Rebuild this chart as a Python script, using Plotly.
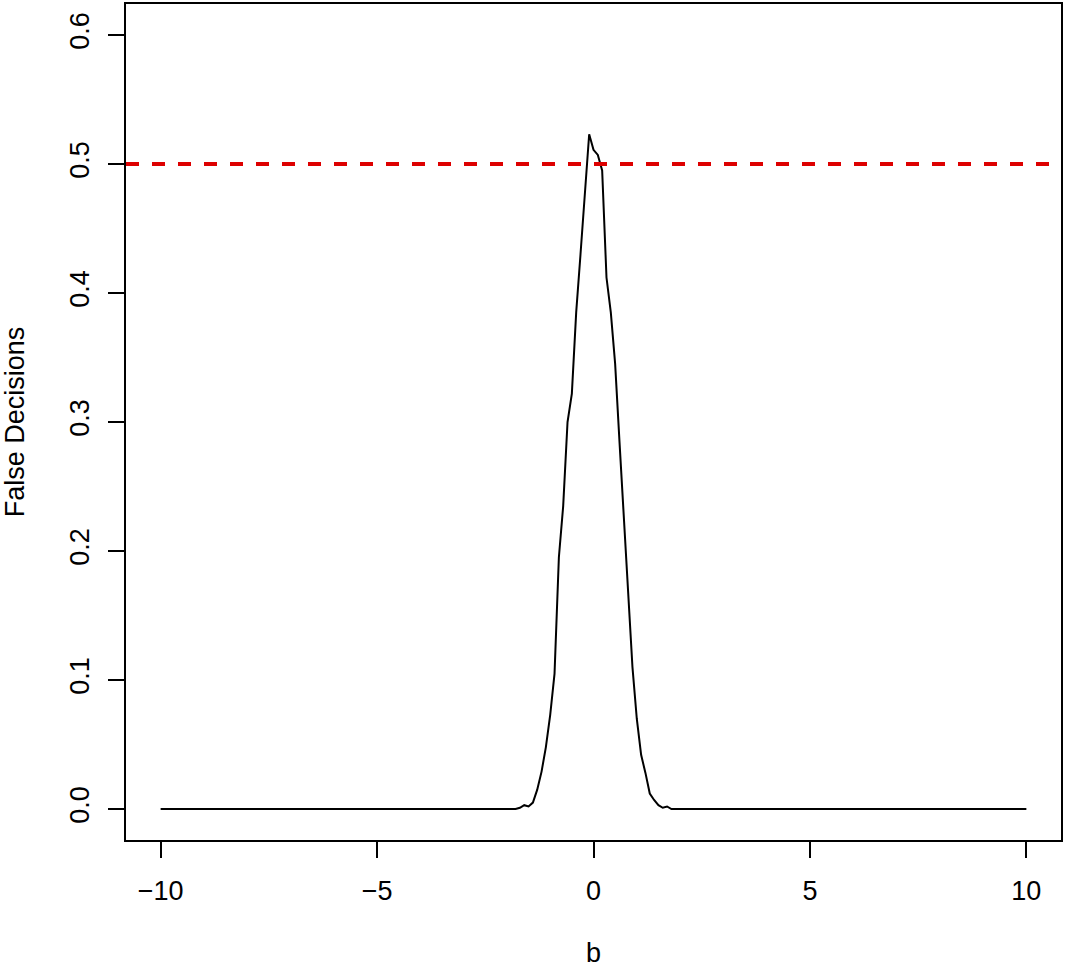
import plotly.graph_objects as go

b_values = [-10, -1.8, -1.7, -1.6, -1.5, -1.4, -1.3, -1.2, -1.1, -1.0, -0.9, -0.8, -0.7,
            -0.6, -0.5, -0.4, -0.3, -0.2, -0.1, 0.0, 0.1, 0.2, 0.3, 0.4, 0.5, 0.6, 0.7,
            0.8, 0.9, 1.0, 1.1, 1.2, 1.3, 1.4, 1.5, 1.6, 1.7, 1.8, 10]
false_decisions = [0, 0, 0.001, 0.003, 0.002, 0.005, 0.015, 0.029, 0.048, 0.073, 0.105, 0.195, 0.235,
                   0.300, 0.322, 0.385, 0.430, 0.475, 0.523, 0.511, 0.507, 0.495, 0.412, 0.385, 0.345, 0.285, 0.225,
                   0.170, 0.110, 0.070, 0.042, 0.028, 0.012, 0.007, 0.003, 0.001, 0.002, 0, 0]
threshold = 0.5
x_ticks = [-10, -5, 0, 5, 10]
y_ticks = [0.0, 0.1, 0.2, 0.3, 0.4, 0.5, 0.6]

fig = go.Figure()
fig.add_trace(go.Scatter(x=b_values, y=false_decisions, mode="lines",
                         line=dict(color="black", width=2), showlegend=False))
fig.add_shape(type="line", xref="paper", yref="y", x0=0, x1=1, y0=threshold, y1=threshold,
              line=dict(color="#DD0000", width=4, dash="13px,13px"))

font = dict(family="Liberation Sans, Arial, Helvetica", size=27, color="black")
fig.update_layout(
    width=1065, height=968,
    margin=dict(l=126, r=4, t=4, b=128),
    plot_bgcolor="white", paper_bgcolor="white",
    font=font,
    xaxis=dict(range=[-10.8, 10.8], tickvals=x_ticks, ticktext=["\u221210", "\u22125", "0", "5", "10"],
               showgrid=False, zeroline=False, showline=True, linecolor="black", linewidth=1.5,
               mirror=True, ticks="outside", ticklen=16, tickwidth=1.5, tickcolor="black",
               ticklabelstandoff=10, automargin=False,
               title=dict(text="b", font=font, standoff=44)),
    yaxis=dict(range=[-0.024, 0.624], tickvals=y_ticks, ticktext=["0.0", "0.1", "0.2", "0.3", "0.4", "0.5", "0.6"],
               showgrid=False, zeroline=False, showline=True, linecolor="black", linewidth=1.5,
               mirror=True, ticks="outside", ticklen=16, tickwidth=1.5, tickcolor="black",
               tickangle=-90, ticklabelstandoff=8, automargin=False,
               title=dict(text="False Decisions", font=font, standoff=44)),
)

fig.write_html("out.html", config={"displayModeBar": False},
               post_script="document.body.style.margin='0';document.body.style.overflow='hidden';")
